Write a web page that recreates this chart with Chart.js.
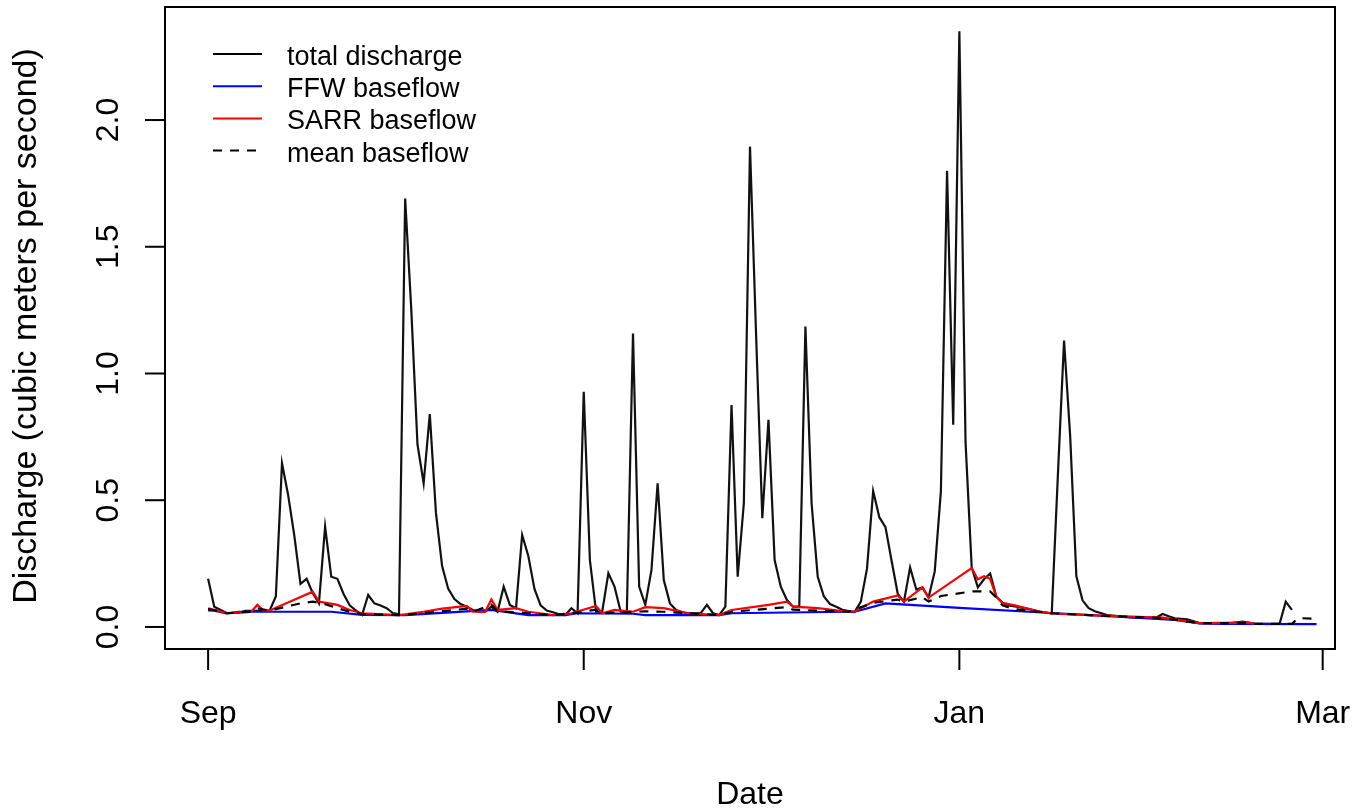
<!DOCTYPE html>
<html>
<head>
<meta charset="utf-8">
<script src="https://cdn.jsdelivr.net/npm/chart.js@4/dist/chart.umd.min.js"></script>
<style>
  html, body { margin: 0; padding: 0; background: #fff; }
  canvas { display: block; }
</style>
</head>
<body>
<canvas id="grafico" width="1365" height="808"></canvas>
<script>
// days since Sep 1
const totalDays = [0, 1, 3, 5, 6, 10, 11, 12, 13, 14, 15, 16, 17, 18, 19, 20, 21, 22, 23, 24, 25, 26, 27, 28, 29, 30,
    31, 32, 33, 34, 35, 36, 37, 38, 39, 40, 41, 42, 43, 44, 45, 46, 47, 48, 49, 50, 51, 52, 53, 54, 55, 56, 57, 58, 59,
    60, 61, 62, 63, 64, 65, 66, 67, 68, 69, 70, 71, 72, 73, 74, 75, 76, 77, 78, 79, 80, 81, 82, 83, 84, 85, 86, 87, 88,
    89, 90, 91, 92, 93, 94, 95, 96, 97, 98, 99, 100, 101, 102, 103, 104, 105, 106, 107, 108, 109, 110, 111, 112, 113,
    114, 115, 116, 117, 118, 119, 120, 121, 122, 123, 124, 125, 126, 127, 128, 129, 130, 132, 135, 137, 138, 139, 140,
    141, 142, 143, 144, 146, 150, 154, 155, 156, 157, 159, 161, 166, 168, 170, 174, 175, 176];
const totalQ = [0.19, 0.08, 0.055, 0.055, 0.064, 0.065, 0.12, 0.646, 0.52, 0.36, 0.17, 0.19, 0.133, 0.093, 0.396, 0.198,
    0.19, 0.13, 0.085, 0.065, 0.047, 0.126, 0.093, 0.085, 0.074, 0.055,
    0.05, 1.69, 1.25, 0.72, 0.567, 0.84, 0.45, 0.24, 0.15, 0.11, 0.09, 0.08, 0.067, 0.06, 0.06, 0.08, 0.06, 0.159, 0.087,
    0.074, 0.363, 0.28, 0.15, 0.085, 0.065, 0.058, 0.05, 0.047, 0.074,
    0.054, 0.928, 0.264, 0.06, 0.06, 0.212, 0.159, 0.06, 0.06, 1.158, 0.159, 0.087, 0.225, 0.567, 0.185, 0.093, 0.067,
    0.058, 0.054, 0.054, 0.054, 0.087, 0.054, 0.047, 0.08, 0.876, 0.198, 0.488, 1.895,
    1.145, 0.429, 0.817, 0.264, 0.159, 0.106, 0.08, 0.08, 1.185, 0.488, 0.198, 0.12, 0.09, 0.08, 0.068, 0.063, 0.06,
    0.1, 0.23, 0.536, 0.433, 0.394, 0.26, 0.13, 0.1,
    0.235, 0.148, 0.156, 0.116, 0.219, 0.536, 1.80, 0.798, 2.35, 0.73, 0.235, 0.156, 0.188, 0.211, 0.12, 0.095, 0.085,
    0.077, 0.061, 0.053, 0.6, 1.13, 0.75,
    0.2, 0.105, 0.074, 0.062, 0.047, 0.038, 0.037, 0.051, 0.042, 0.034, 0.03, 0.015, 0.015, 0.021, 0.012, 0.012, 0.1, 0.067];

const ffwDays = [0, 1, 3, 5, 20, 25, 32, 46, 52, 58, 60, 69, 71, 83, 85, 94, 104, 105, 110, 122, 137, 147, 157, 161, 165, 180];
const ffwQ = [0.065, 0.064, 0.054, 0.06, 0.06, 0.048, 0.047, 0.067, 0.047, 0.047, 0.054, 0.052, 0.047, 0.047, 0.054, 0.057,
    0.06, 0.06, 0.093, 0.075, 0.055, 0.042, 0.028, 0.014, 0.012, 0.011];

const sarrDays = [0, 1, 3, 7, 8, 9, 10, 17, 18, 21, 23, 25, 31, 32, 35, 38, 42, 43, 45, 46, 47, 50, 52, 56, 59, 63, 64, 66,
    69, 71, 74, 78, 83, 85, 91, 94, 95, 99, 104, 105, 108, 112, 113, 116, 117, 124, 125, 126, 127, 128, 129, 131, 135,
    137, 145, 155, 161, 169, 170];
const sarrQ = [0.074, 0.068, 0.054, 0.06, 0.087, 0.065, 0.065, 0.139, 0.1, 0.087, 0.067, 0.054, 0.047, 0.05, 0.06, 0.072,
    0.083, 0.06, 0.06, 0.109, 0.067, 0.074, 0.06, 0.047, 0.054, 0.083, 0.054, 0.067,
    0.06, 0.078, 0.074, 0.054, 0.047, 0.067, 0.087, 0.1, 0.08, 0.074, 0.06, 0.061, 0.1, 0.124, 0.1, 0.156, 0.116, 0.232,
    0.188, 0.2, 0.19, 0.12, 0.095, 0.085, 0.061,
    0.053, 0.045, 0.037, 0.015, 0.017, 0.012];

const meanDays = [0, 1, 3, 7, 8, 10, 15, 17, 19, 21, 23, 25, 31, 35, 42, 43, 46, 47, 52, 56, 59, 63, 64, 71, 74, 78, 83,
    85, 94, 95, 104, 108, 112, 113, 116, 117, 119, 124, 127, 128, 129, 131, 137, 145, 155, 161, 169, 170, 176, 177, 180];
const meanQ = [0.07, 0.066, 0.054, 0.06, 0.073, 0.065, 0.093, 0.1, 0.09, 0.074, 0.06, 0.051, 0.047, 0.055, 0.072, 0.06,
    0.088, 0.062, 0.054, 0.047, 0.054, 0.068, 0.054, 0.062, 0.06, 0.054, 0.047,
    0.06, 0.078, 0.068, 0.06, 0.095, 0.108, 0.1, 0.118, 0.1, 0.122, 0.14, 0.14, 0.116, 0.085, 0.07, 0.054, 0.044, 0.035,
    0.015, 0.015, 0.012, 0.012, 0.035, 0.032];

const xTickDays = [0, 61, 122, 181];
const xTickLabels = ['Sep', 'Nov', 'Jan', 'Mar'];
const yTicks = [0.0, 0.5, 1.0, 1.5, 2.0];

const legendLabels = ['total discharge', 'FFW baseflow', 'SARR baseflow', 'mean baseflow'];

function pares(dias, valores) {
    var pts = [];
    for (var i = 0; i < dias.length; i++) {
        pts.push({ x: dias[i], y: valores[i] });
    }
    return pts;
}

const FONTE = '"Liberation Sans", Arial, sans-serif';

// eixos e legenda no estilo do R
const eixosR = {
    id: 'eixosR',
    afterDraw(chart) {
        const ctx = chart.ctx;
        const a = chart.chartArea;
        const sx = chart.scales.x;
        const sy = chart.scales.y;
        ctx.save();
        ctx.strokeStyle = '#000';
        ctx.fillStyle = '#000';
        ctx.lineWidth = 2;

        // caixa
        ctx.strokeRect(a.left, a.top, a.right - a.left, a.bottom - a.top);

        // eixo x
        ctx.font = '32px ' + FONTE;
        ctx.textAlign = 'center';
        ctx.textBaseline = 'alphabetic';
        const x0 = sx.getPixelForValue(xTickDays[0]);
        const x1 = sx.getPixelForValue(xTickDays[xTickDays.length - 1]);
        ctx.beginPath();
        ctx.moveTo(x0, a.bottom);
        ctx.lineTo(x1, a.bottom);
        ctx.stroke();
        for (var i = 0; i < xTickDays.length; i++) {
            const px = sx.getPixelForValue(xTickDays[i]);
            ctx.beginPath();
            ctx.moveTo(px, a.bottom);
            ctx.lineTo(px, a.bottom + 21);
            ctx.stroke();
            ctx.fillText(xTickLabels[i], px, a.bottom + 74);
        }

        // eixo y
        for (var j = 0; j < yTicks.length; j++) {
            const py = sy.getPixelForValue(yTicks[j]);
            ctx.beginPath();
            ctx.moveTo(a.left, py);
            ctx.lineTo(a.left - 20, py);
            ctx.stroke();
            ctx.save();
            ctx.translate(a.left - 47, py);
            ctx.rotate(-Math.PI / 2);
            ctx.fillText(yTicks[j].toFixed(1), 0, 0);
            ctx.restore();
        }

        // titulos
        ctx.fillText('Date', (a.left + a.right) / 2, a.bottom + 155);
        ctx.save();
        ctx.font = '34px ' + FONTE;
        ctx.translate(36, (a.top + a.bottom) / 2 - 2);
        ctx.rotate(-Math.PI / 2);
        ctx.fillText('Discharge (cubic meters per second)', 0, 0);
        ctx.restore();

        // legenda
        const cores = ['#000000', '#0000ff', '#ff0000', '#000000'];
        ctx.font = '27px ' + FONTE;
        ctx.textAlign = 'left';
        for (var k = 0; k < legendLabels.length; k++) {
            const ly = 54 + k * 32.2;
            ctx.strokeStyle = cores[k];
            ctx.setLineDash(k === 3 ? [9, 8] : []);
            ctx.beginPath();
            ctx.moveTo(213, ly);
            ctx.lineTo(262, ly);
            ctx.stroke();
            ctx.setLineDash([]);
            ctx.fillText(legendLabels[k], 287, ly + 11);
        }
        ctx.restore();
    }
};

const ctx = document.getElementById('grafico').getContext('2d');
new Chart(ctx, {
    type: 'line',
    data: {
        datasets: [
            {
                label: 'mean baseflow',
                data: pares(meanDays, meanQ),
                borderColor: '#000000',
                borderDash: [9, 8],
                borderWidth: 2.2,
                order: 0
            },
            {
                label: 'SARR baseflow',
                data: pares(sarrDays, sarrQ),
                borderColor: '#ff0000',
                borderWidth: 2.2,
                order: 1
            },
            {
                label: 'FFW baseflow',
                data: pares(ffwDays, ffwQ),
                borderColor: '#0000ff',
                borderWidth: 2.2,
                order: 2
            },
            {
                label: 'total discharge',
                data: pares(totalDays, totalQ),
                borderColor: '#111111',
                borderWidth: 2.2,
                order: 3
            }
        ]
    },
    options: {
        responsive: false,
        animation: false,
        layout: { padding: { left: 165, right: 30, top: 7, bottom: 159 } },
        elements: {
            point: { radius: 0 },
            line: { tension: 0, fill: false, borderJoinStyle: 'miter' }
        },
        scales: {
            x: { type: 'linear', min: -7, max: 183, display: false },
            y: { type: 'linear', min: -0.087, max: 2.446, display: false }
        },
        plugins: {
            legend: { display: false },
            tooltip: { enabled: false }
        }
    },
    plugins: [eixosR]
});
</script>
</body>
</html>
